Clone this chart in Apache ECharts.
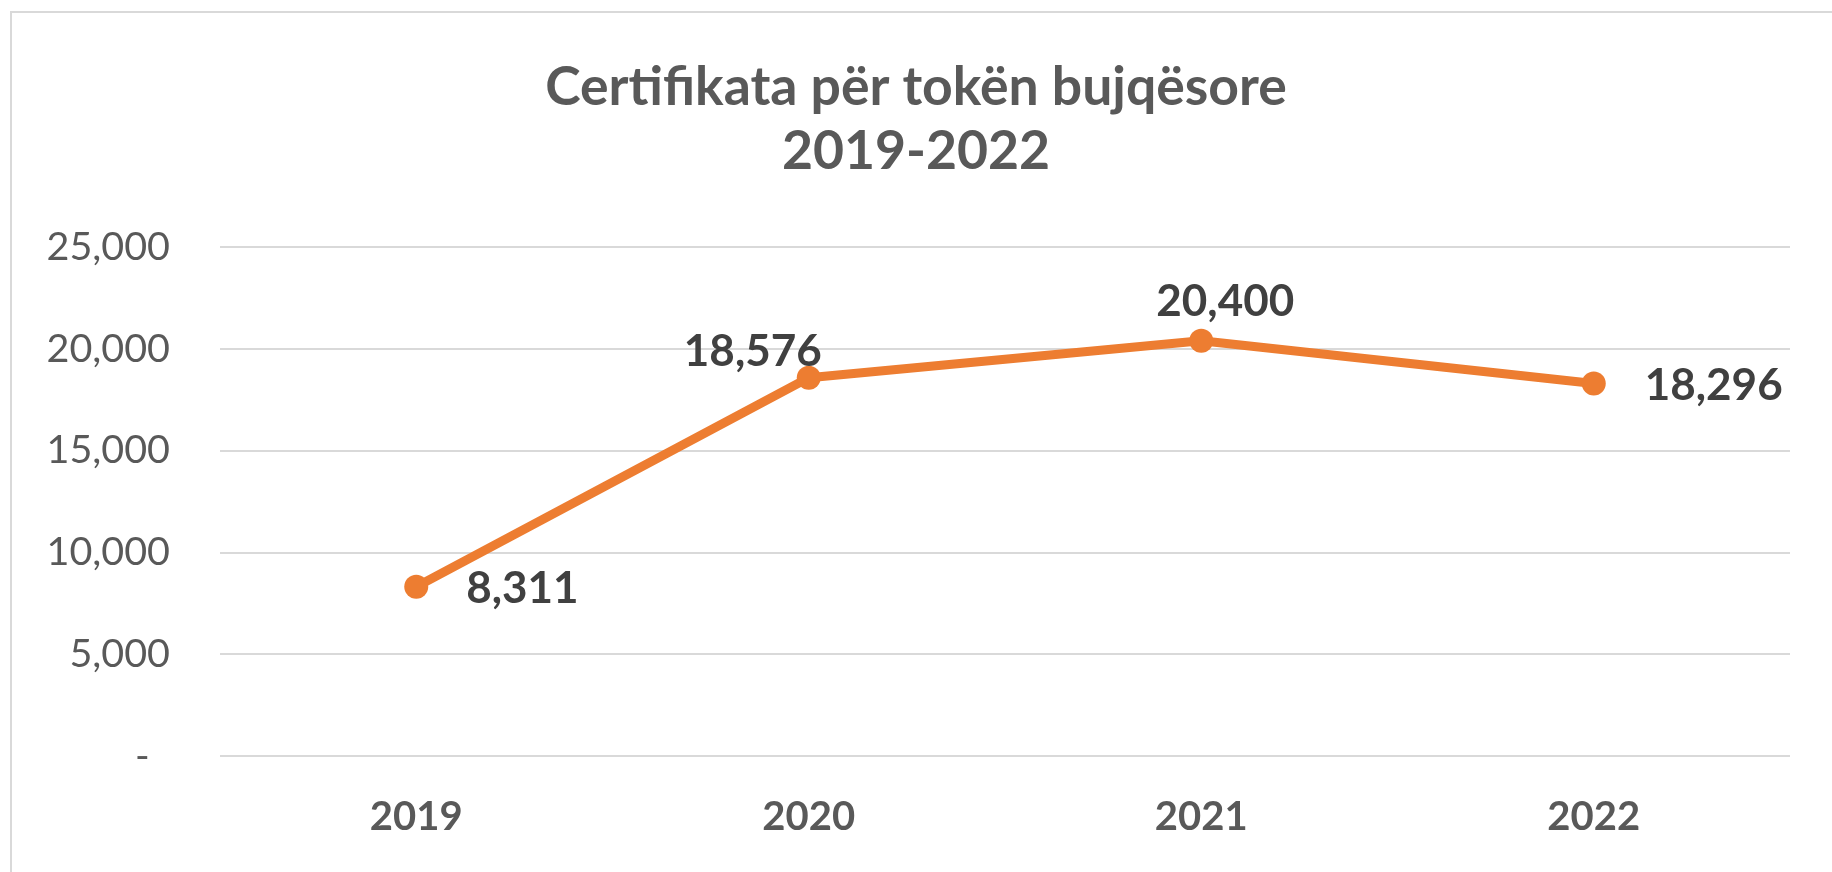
<!DOCTYPE html>
<html>
<head>
<meta charset="utf-8">
<script src="https://cdn.jsdelivr.net/npm/echarts@6/dist/echarts.min.js"></script>
<style>
  html, body { margin: 0; padding: 0; background: #fff; }
  #chart { width: 1832px; height: 872px; }
</style>
</head>
<body>
<div id="chart"></div>
<script>
const years = ['2019', '2020', '2021', '2022']
const certificates = [8311, 18576, 20400, 18296]
const labelPositions = ['right', 'left', 'top', 'right']
const labelOffsets = [[33, 2], [30, -26], [24, 0], [34, 2]]

const chart = echarts.init(document.getElementById('chart'))

const fmt = v => v.toLocaleString('en-US')

chart.setOption({
  backgroundColor: '#fff',
  textStyle: { fontFamily: 'Lato' },
  title: {
    text: 'Certifikata për tokën bujqësore\n2019-2022',
    left: 'center',
    top: 51,
    textStyle: {
      fontFamily: 'Lato',
      fontSize: 53.5,
      fontWeight: 'bold',
      color: '#595959',
      lineHeight: 64
    }
  },
  graphic: [{
    type: 'rect',
    shape: { x: 11, y: 12, width: 1900, height: 1000 },
    style: { fill: 'none', stroke: '#d9d9d9', lineWidth: 2 },
    silent: true
  }],
  grid: { left: 220, right: 42, top: 247, bottom: 116 },
  xAxis: {
    type: 'category',
    data: years,
    axisLine: { show: false },
    axisTick: { show: false },
    axisLabel: {
      margin: 41,
      fontSize: 40,
      fontWeight: 'bold',
      color: '#595959',
      fontFamily: 'Lato'
    }
  },
  yAxis: {
    type: 'value',
    min: 0,
    max: 25000,
    interval: 5000,
    axisLine: { show: false },
    axisTick: { show: false },
    splitLine: { lineStyle: { color: '#d9d9d9', width: 2 } },
    axisLabel: {
      margin: 50,
      fontSize: 39.5,
      color: '#595959',
      fontFamily: 'Lato',
      formatter: v => (v === 0 ? '-  ' : fmt(v))
    }
  },
  series: [{
    type: 'line',
    data: certificates.map((v, i) => ({
      value: v,
      label: { position: labelPositions[i], offset: labelOffsets[i] }
    })),
    symbol: 'circle',
    symbolSize: 24,
    lineStyle: { color: '#ED7D31', width: 9 },
    itemStyle: { color: '#ED7D31' },
    label: {
      show: true,
      fontSize: 44,
      fontWeight: 'bold',
      color: '#404040',
      fontFamily: 'Lato',
      formatter: p => fmt(p.value)
    },
    animation: false
  }]
})
</script>
</body>
</html>
